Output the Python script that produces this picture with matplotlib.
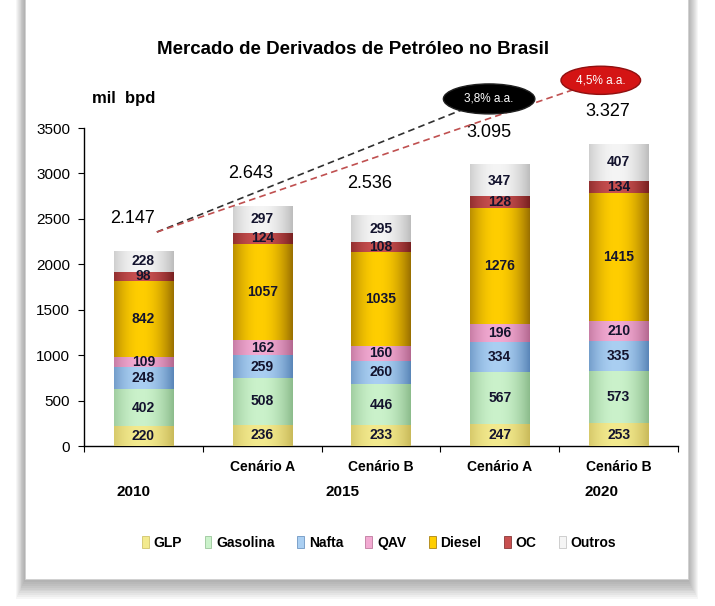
import matplotlib.pyplot as plt
import numpy as np
from matplotlib.patches import Rectangle, Ellipse, Patch
from matplotlib.colors import to_rgb

plt.rcParams['font.family'] = ['Liberation Sans', 'DejaVu Sans']

# Data (mil bpd)
categories = ['2010', '2015 A', '2015 B', '2020 A', '2020 B']
scenario_labels = ['', 'Cenário A', 'Cenário B', 'Cenário A', 'Cenário B']
year_labels = ['2010', '2015', '2020']
series = ['GLP', 'Gasolina', 'Nafta', 'QAV', 'Diesel', 'OC', 'Outros']
glp = [220, 236, 233, 247, 253]
gasolina = [402, 508, 446, 567, 573]
nafta = [248, 259, 260, 334, 335]
qav = [109, 162, 160, 196, 210]
diesel = [842, 1057, 1035, 1276, 1415]
oc = [98, 124, 108, 128, 134]
outros = [228, 297, 295, 347, 407]
totals = ['2.147', '2.643', '2.536', '3.095', '3.327']
total_values = [2147, 2643, 2536, 3095, 3327]
growth_labels = ['3,8% a.a.', '4,5% a.a.']

values = [glp, gasolina, nafta, qav, diesel, oc, outros]

# center colour, edge colour for the cylinder shading
center_colors = ['#F3EA8E', '#CBF2CB', '#AACFF2', '#F2AAD2', '#FFCE00', '#C85050', '#F5F5F5']
edge_colors = ['#C9BA5A', '#8CBC8C', '#5A86B8', '#B46890', '#9A7000', '#782020', '#BDBDBD']

W, H = 715, 606
fig = plt.figure(figsize=(W / 100, H / 100), dpi=100)
fig.patch.set_facecolor('white')

# card with soft shadow
for i in range(10, 0, -1):
    fig.patches.append(Rectangle(((25 - i * 0.9) / W, (26 - i * 1.9) / H),
                                 (663 + i * 1.9) / W, (606 + i) / H,
                                 transform=fig.transFigure, facecolor='#505050',
                                 alpha=0.05, edgecolor='none', zorder=0))
fig.patches.append(Rectangle((25 / W, 27 / H), 663 / W, 600 / H,
                             transform=fig.transFigure, facecolor='white',
                             edgecolor='#d0d0d0', linewidth=0.6, zorder=1))

ax = fig.add_axes([84 / W, (H - 446) / H, (678 - 84) / W, (446 - 128) / H])
ax.set_facecolor('none')
ax.set_zorder(2)

x = np.arange(len(categories))
bar_w = 0.5
bottom = np.zeros(len(categories))
t = np.linspace(0, 1, 64)
shade = np.clip(1 - (np.abs(t - 0.45) / 0.55) ** 2, 0, 1)

for name, vals, cc, ec in zip(series, values, center_colors, edge_colors):
    bars = ax.bar(x, vals, bar_w, bottom=bottom, color=cc, edgecolor='none', label=name, zorder=2)
    c1, c0 = np.array(to_rgb(cc)), np.array(to_rgb(ec))
    grad = (c0[None, :] + (c1 - c0)[None, :] * shade[:, None])[None, :, :]
    for b, v in zip(bars, vals):
        x0, y0 = b.get_x(), b.get_y()
        ax.imshow(grad, extent=(x0, x0 + b.get_width(), y0, y0 + b.get_height()),
                  aspect='auto', zorder=3, interpolation='bilinear')
        ax.text(x0 + b.get_width() / 2, y0 + b.get_height() / 2, str(v),
                ha='center', va='center', fontsize=10, fontweight='bold',
                color='#14142e', zorder=4)
    bottom += np.array(vals)

# totals above bars
for xi, tv, tl in zip(x, total_values, totals):
    ax.annotate(tl, (xi, tv), xytext=(-8, 23), textcoords='offset points',
                ha='center', va='center', fontsize=13, color='black', zorder=5)

# growth lines and ellipses
start = (0.113, 2355)
black_c = (2.91, 3820)
red_c = (3.85, 4025)
ax.plot([start[0], black_c[0]], [start[1], black_c[1]], ls=(0, (4, 2.5)), color='#303030',
        lw=1.2, clip_on=False, zorder=5)
ax.plot([start[0], red_c[0]], [start[1], red_c[1]], ls=(0, (4, 2.5)), color='#c05050',
        lw=1.2, clip_on=False, zorder=5)
ax.add_patch(Ellipse(black_c, 0.77, 330, facecolor='black', edgecolor='#202020',
                     clip_on=False, zorder=6))
ax.add_patch(Ellipse(red_c, 0.67, 310, facecolor='#d41414', edgecolor='#901010',
                     lw=1, clip_on=False, zorder=6))
ax.text(black_c[0], black_c[1], growth_labels[0], ha='center', va='center',
        fontsize=8.5, color='white', zorder=7)
ax.text(red_c[0], red_c[1], growth_labels[1], ha='center', va='center',
        fontsize=8.5, color='white', zorder=7)

ax.set_xlim(-0.5, 4.5)
ax.set_ylim(0, 3500)
ax.set_yticks(np.arange(0, 3501, 500))
ax.set_xticks(np.arange(-0.5, 4.6, 1))
ax.set_xticklabels([])
ax.tick_params(axis='y', labelsize=11, length=4, width=0.8, pad=6)
ax.tick_params(axis='x', length=4, width=0.8, direction='out')
for s in ['top', 'right']:
    ax.spines[s].set_visible(False)
for s in ['left', 'bottom']:
    ax.spines[s].set_linewidth(1.0)

for xi, lab in zip(x, scenario_labels):
    ax.text(xi, -230, lab, ha='center', va='center', fontsize=10, fontweight='bold',
            clip_on=False)
for xp, lab in zip([-0.08, 1.68, 3.86], year_labels):
    ax.text(xp, -505, lab, ha='center', va='center', fontsize=11, fontweight='bold',
            clip_on=False)

fig.text(353 / W, 1 - 50 / H, 'Mercado de Derivados de Petróleo no Brasil',
         ha='center', va='center', fontsize=13.5, fontweight='bold', zorder=3)
fig.text(92 / W, 1 - 98 / H, 'mil  bpd', ha='left', va='center', fontsize=12,
         fontweight='bold', zorder=3)

handles = [Patch(facecolor=cc, edgecolor=ec, linewidth=0.5) for cc, ec in zip(center_colors, edge_colors)]
leg = fig.legend(handles, series, loc='center', bbox_to_anchor=(379 / W, 1 - 543 / H),
                 ncol=7, frameon=False, handlelength=0.5, handleheight=0.9,
                 handletextpad=0.35, columnspacing=1.6,
                 prop={'weight': 'bold', 'size': 10})
leg.set_zorder(3)

fig.savefig('out.png', dpi=100, facecolor='white')
